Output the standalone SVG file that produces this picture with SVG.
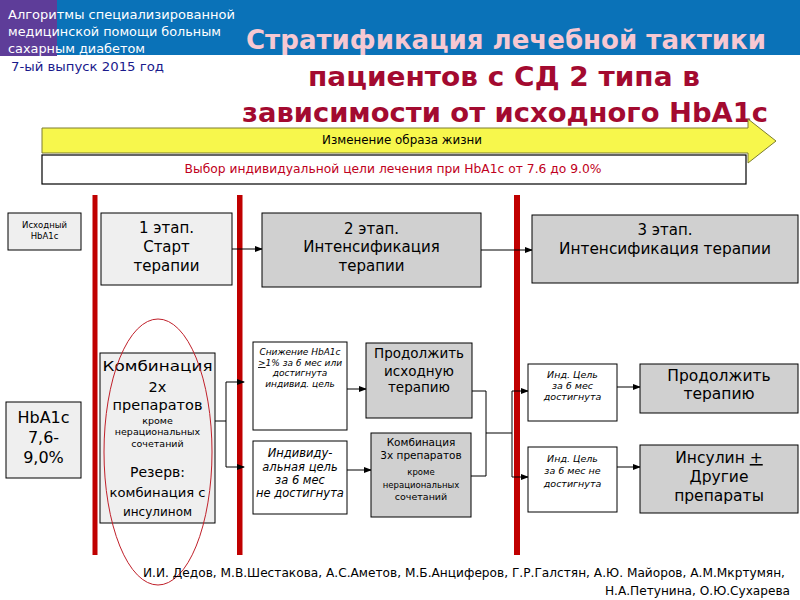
<svg xmlns="http://www.w3.org/2000/svg" width="800" height="600" viewBox="0 0 800 600">
<defs>
<marker id="ah" markerWidth="8" markerHeight="6" refX="7" refY="3" orient="auto" markerUnits="userSpaceOnUse">
<path d="M0,0 L8,3 L0,6 Z" fill="#000"/>
</marker>
<style>
text{font-family:"DejaVu Sans","Liberation Sans",sans-serif;text-anchor:middle;fill:#000}
.box{stroke:#000;stroke-width:1}
.lt{fill:#efefef}
.gr{fill:#d0d0d0}
.wh{fill:#fff}
.bar{fill:#c00000}
.con{stroke:#000;stroke-width:1;fill:none}
.arr{marker-end:url(#ah)}
.it{font-style:italic}
</style>
</defs>
<rect x="0" y="0" width="800" height="600" fill="#fff"/>
<g id="header">
<rect x="0" y="0" width="800" height="55" fill="#0a72b8"/>
<rect x="0" y="0" width="57" height="56" fill="#5e3d99"/>
<text x="8" y="19" style="text-anchor:start;fill:#fff;font-size:12.5px" textLength="227" lengthAdjust="spacingAndGlyphs">Алгоритмы специализированной</text>
<text x="8" y="36" style="text-anchor:start;fill:#fff;font-size:12.5px" textLength="213" lengthAdjust="spacingAndGlyphs">медицинской помощи больным</text>
<text x="8" y="53" style="text-anchor:start;fill:#fff;font-size:12.5px" textLength="137" lengthAdjust="spacingAndGlyphs">сахарным диабетом</text>
<text x="11" y="71" style="text-anchor:start;fill:#1a1a8c;font-size:13px" textLength="153" lengthAdjust="spacingAndGlyphs">7-ый выпуск 2015 год</text>
</g>
<g id="title">
<text x="506" y="49" style="fill:#f6c8d2;font-size:27px;font-weight:bold" textLength="520" lengthAdjust="spacingAndGlyphs">Стратификация лечебной тактики</text>
<text x="504" y="86" style="fill:#a30a30;font-size:27px;font-weight:bold" textLength="392" lengthAdjust="spacingAndGlyphs">пациентов с СД 2 типа в</text>
<text x="505" y="122" style="fill:#a30a30;font-size:27px;font-weight:bold" textLength="526" lengthAdjust="spacingAndGlyphs">зависимости от исходного HbA1c</text>
</g>
<g id="lifestyle">
<path d="M42,128 L748,128 L748,119 L776,141 L748,163 L748,153 L42,153 Z" fill="#f7f74c" stroke="#7c7c30" stroke-width="1"/>
<text x="402" y="144" style="font-size:11.5px" textLength="160" lengthAdjust="spacingAndGlyphs">Изменение образа жизни</text>
</g>
<g id="goal">
<rect x="42" y="155" width="704" height="29" class="wh" stroke="#000" stroke-width="1.2"/>
<text x="393" y="173" style="font-size:11.5px;fill:#c00020" textLength="417" lengthAdjust="spacingAndGlyphs">Выбор индивидуальной цели лечения при HbA1c от 7.6 до 9.0%</text>
</g>
<g id="bars">
<rect x="92.5" y="195" width="5" height="360" class="bar"/>
<rect x="237" y="195" width="5.5" height="360" class="bar"/>
<rect x="514" y="195" width="6" height="360" class="bar"/>
</g>
<g id="connectors">
<line x1="232" y1="249" x2="262" y2="249" class="con arr"/>
<line x1="481" y1="250" x2="532" y2="250" class="con arr"/>
<polyline points="215,421 226,421" class="con"/>
<line x1="226" y1="382" x2="226" y2="467" class="con"/>
<line x1="226" y1="382" x2="244" y2="382" class="con arr"/>
<line x1="226" y1="467" x2="244" y2="467" class="con arr"/>
<line x1="347" y1="389" x2="366" y2="389" class="con arr"/>
<line x1="347" y1="470" x2="371" y2="470" class="con arr"/>
<line x1="472" y1="391" x2="486" y2="391" class="con"/>
<line x1="471" y1="476" x2="486" y2="476" class="con"/>
<line x1="486" y1="391" x2="486" y2="476" class="con"/>
<line x1="486" y1="433" x2="512" y2="433" class="con"/>
<line x1="512" y1="391" x2="512" y2="477" class="con"/>
<line x1="512" y1="391" x2="528" y2="391" class="con arr"/>
<line x1="512" y1="477" x2="528" y2="477" class="con arr"/>
<line x1="617" y1="387" x2="640" y2="387" class="con arr"/>
<line x1="617" y1="467" x2="640" y2="467" class="con arr"/>
</g>
<g id="n-iskh">
<rect x="8" y="213" width="73" height="37" class="box lt"/>
<text x="44.5" y="228" style="font-size:8.5px">Исходный</text>
<text x="44.5" y="239" style="font-size:8.5px">HbA1c</text>
</g>
<g id="n-stage1">
<rect x="101" y="213" width="131" height="72" class="box lt"/>
<text x="166.5" y="233" style="font-size:15px">1 этап.</text>
<text x="166.5" y="252" style="font-size:15px">Старт</text>
<text x="166.5" y="271" style="font-size:15px">терапии</text>
</g>
<g id="n-stage2">
<rect x="262" y="213" width="219" height="74" class="box gr"/>
<text x="371.5" y="234" style="font-size:15px">2 этап.</text>
<text x="371.5" y="252" style="font-size:15px">Интенсификация</text>
<text x="371.5" y="271" style="font-size:15px">терапии</text>
</g>
<g id="n-stage3">
<rect x="532" y="215" width="266" height="68" class="box gr"/>
<text x="665" y="235" style="font-size:15px">3 этап.</text>
<text x="665" y="254" style="font-size:15px" textLength="212" lengthAdjust="spacingAndGlyphs">Интенсификация терапии</text>
</g>
<g id="n-hba1c">
<rect x="6" y="402" width="75" height="76" class="box lt"/>
<text x="43.5" y="423" style="font-size:16px">HbA1c</text>
<text x="43.5" y="443" style="font-size:16px">7,6-</text>
<text x="43.5" y="463" style="font-size:16px">9,0%</text>
</g>
<g id="n-combo2">
<rect x="100" y="353" width="115" height="170" class="box lt"/>
<text x="157.5" y="371" style="font-size:14.5px" textLength="110" lengthAdjust="spacingAndGlyphs">Комбинация</text>
<text x="157.5" y="392" style="font-size:14.5px">2х</text>
<text x="157.5" y="410" style="font-size:14.5px">препаратов</text>
<text x="157.5" y="424" style="font-size:9.5px">кроме</text>
<text x="157.5" y="435" style="font-size:9.5px">нерациональных</text>
<text x="157.5" y="447" style="font-size:9.5px">сочетаний</text>
<text x="157.5" y="477" style="font-size:14px">Резерв:</text>
<text x="157.5" y="497" style="font-size:12px" textLength="96" lengthAdjust="spacingAndGlyphs">комбинация с</text>
<text x="157.5" y="516" style="font-size:12px">инсулином</text>
</g>
<g id="n-reduce">
<rect x="253" y="342" width="94" height="88" class="box wh"/>
<text x="300" y="355" class="it" style="font-size:9px">Снижение HbA1c</text>
<text x="300" y="366" class="it" style="font-size:9px"><tspan text-decoration="underline">&gt;</tspan>1% за 6 мес или</text>
<text x="300" y="376" class="it" style="font-size:9px">достигнута</text>
<text x="300" y="387" class="it" style="font-size:9px">индивид. цель</text>
</g>
<g id="n-notreached">
<rect x="253" y="441" width="94" height="73" class="box wh"/>
<text x="300" y="457" class="it" style="font-size:11.5px">Индивиду-</text>
<text x="300" y="471" class="it" style="font-size:11.5px">альная цель</text>
<text x="300" y="484" class="it" style="font-size:11.5px">за 6 мес</text>
<text x="300" y="497" class="it" style="font-size:11.5px">не достигнута</text>
</g>
<g id="n-continue1">
<rect x="366" y="343" width="106" height="75" class="box gr"/>
<text x="419" y="358" style="font-size:13.5px">Продолжить</text>
<text x="419" y="376" style="font-size:13.5px">исходную</text>
<text x="419" y="392" style="font-size:13.5px">терапию</text>
</g>
<g id="n-combo3">
<rect x="371" y="433" width="100" height="84" class="box gr"/>
<text x="421" y="446" style="font-size:10.5px">Комбинация</text>
<text x="421" y="459" style="font-size:10.5px">3х препаратов</text>
<text x="421" y="475" style="font-size:8.5px">кроме</text>
<text x="421" y="488" style="font-size:8.5px">нерациональных</text>
<text x="421" y="500" style="font-size:9.5px">сочетаний</text>
</g>
<g id="n-reached3">
<rect x="528" y="364" width="89" height="57" class="box wh"/>
<text x="572.5" y="378" class="it" style="font-size:9.5px">Инд. Цель</text>
<text x="572.5" y="389" class="it" style="font-size:9.5px">за 6 мес</text>
<text x="572.5" y="400" class="it" style="font-size:9.5px">достигнута</text>
</g>
<g id="n-notreached3">
<rect x="528" y="447" width="89" height="65" class="box wh"/>
<text x="572.5" y="462" class="it" style="font-size:9.5px">Инд. Цель</text>
<text x="572.5" y="474" class="it" style="font-size:9.5px">за 6 мес не</text>
<text x="572.5" y="487" class="it" style="font-size:9.5px">достигнута</text>
</g>
<g id="n-continue3">
<rect x="640" y="364" width="158" height="49" class="box gr"/>
<text x="719" y="381" style="font-size:15.5px">Продолжить</text>
<text x="719" y="399" style="font-size:15.5px">терапию</text>
</g>
<g id="n-insulin">
<rect x="640" y="445" width="158" height="68" class="box gr"/>
<text x="719" y="463" style="font-size:15.5px">Инсулин <tspan text-decoration="underline">+</tspan></text>
<text x="719" y="482" style="font-size:15.5px">Другие</text>
<text x="719" y="501" style="font-size:15.5px">препараты</text>
</g>
<ellipse id="highlight" cx="158" cy="452" rx="54" ry="133" fill="none" stroke="#c0202a" stroke-width="1"/>
<g id="authors">
<text x="785" y="577" style="text-anchor:end;font-size:11.5px" textLength="642" lengthAdjust="spacingAndGlyphs">И.И. Дедов, М.В.Шестакова, А.С.Аметов, М.Б.Анциферов, Г.Р.Галстян, А.Ю. Майоров, А.М.Мкртумян,</text>
<text x="790" y="595" style="text-anchor:end;font-size:11.5px" textLength="185" lengthAdjust="spacingAndGlyphs">Н.А.Петунина, О.Ю.Сухарева</text>
</g>
</svg>
